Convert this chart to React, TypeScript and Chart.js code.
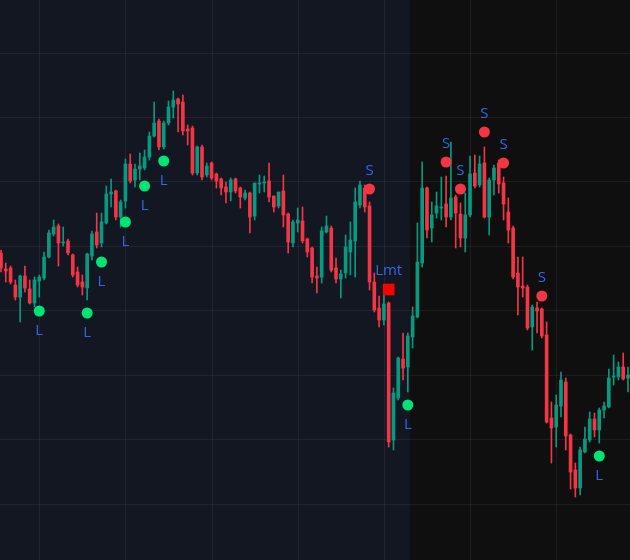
import React, { useEffect, useRef } from "react";
import { Chart, registerables } from "chart.js";

Chart.register(...registerables);

// OHLC per candle (index 0..131)
const OPEN = [307,291,292,275,263,284,271,257,279,282,303,326,334,317,319,305,288,278,272,304,328,317,337,366,369,343,359,396,380,391,392,403,424,439,413,437,453,461,458,431,432,387,413,385,397,386,381,373,368,381,372,362,367,344,376,377,379,364,354,369,346,317,337,339,321,312,284,283,328,332,292,281,287,308,319,355,372,354,278,252,240,257,120,162,201,193,223,243,297,372,332,347,352,356,343,363,346,322,345,387,375,397,343,380,397,377,348,332,287,274,273,233,252,251,225,142,133,154,178,125,90,72,108,120,141,130,150,153,183,183,193,182];
const HIGH = [310,297,294,280,285,294,280,283,285,308,330,340,336,333,321,306,293,285,307,329,347,347,374,381,370,360,401,406,396,407,410,428,458,441,439,459,469,462,465,435,434,414,415,397,398,387,382,378,382,382,373,370,368,377,385,384,397,364,368,385,347,340,352,353,322,313,293,333,344,334,302,290,325,338,372,379,375,358,287,264,275,258,172,203,227,227,253,337,398,373,358,368,383,384,418,365,357,367,404,405,404,413,382,395,400,383,362,334,303,303,275,255,258,252,238,158,165,188,182,126,97,113,133,148,147,152,158,191,205,198,207,193];
const LOW = [288,278,276,260,238,268,256,253,263,280,302,324,294,314,305,283,273,265,260,300,312,313,336,353,340,333,352,377,373,380,390,400,423,410,411,435,442,428,425,415,385,385,380,383,380,372,365,357,359,367,352,360,327,340,367,368,358,348,352,333,307,313,328,317,303,277,267,277,327,288,277,262,282,285,283,352,348,270,248,233,235,113,110,160,180,168,212,242,293,322,318,342,340,333,340,312,313,308,343,372,373,342,325,365,367,340,317,281,245,263,230,210,227,222,137,97,113,143,110,71,63,65,107,118,123,117,142,152,175,180,180,168];
const CLOSE = [292,289,278,263,284,272,257,280,283,303,327,333,317,318,307,285,275,273,306,326,315,338,366,368,343,358,396,379,391,394,403,424,437,413,437,453,460,456,429,429,387,413,383,394,382,379,372,368,380,369,363,367,343,377,377,378,363,353,368,345,318,338,340,319,308,283,282,329,334,290,281,286,313,320,358,375,353,278,250,240,256,118,167,202,192,224,244,298,372,330,345,354,353,343,362,347,322,345,386,374,396,343,380,392,376,356,330,283,273,272,232,253,249,224,138,132,155,180,124,88,72,110,121,141,130,150,154,182,184,193,181,185];

// Strategy markers: candle index and price
const LONG_IDX = [8, 18, 21, 26, 30, 34, 85, 125];
const LONG_PRICE = [249, 247, 298, 338, 374, 399, 155, 104];
const SHORT_IDX = [77, 93, 96, 101, 105, 113];
const SHORT_PRICE = [371, 398, 371, 428, 397, 264];
const LIMIT_IDX = [81];
const LIMIT_PRICE = [270.5];

// Grid lines (price levels and candle indices)
const PRICE_GRID = [56.5, 120.9, 185.3, 249.7, 314.1, 378.5, 442.9, 507.3];
const TIME_GRID = [8, 26, 44, 62, 80, 98, 116];
const SESSION_BREAK = 85.5;

const UP = "#089981";
const DOWN = "#f23645";
const LABEL_BLUE = "#3366ee";

const bgPlugin = {
  id: "sessionBg",
  beforeDatasetsDraw(chart: any) {
    const { ctx, scales } = chart;
    const xs = scales.x;
    const ys = scales.y;
    const xb = Math.round(xs.getPixelForValue(SESSION_BREAK));
    ctx.save();
    ctx.fillStyle = "#131722";
    ctx.fillRect(0, 0, xb, chart.height);
    ctx.fillStyle = "#0f0f0f";
    ctx.fillRect(xb, 0, chart.width - xb, chart.height);
    ctx.strokeStyle = "rgba(255,255,255,0.06)";
    ctx.lineWidth = 1;
    ctx.beginPath();
    TIME_GRID.forEach((v) => {
      const px = Math.round(xs.getPixelForValue(v)) + 0.5;
      ctx.moveTo(px, 0);
      ctx.lineTo(px, chart.height);
    });
    PRICE_GRID.forEach((v) => {
      const py = Math.round(ys.getPixelForValue(v)) + 0.5;
      ctx.moveTo(0, py);
      ctx.lineTo(chart.width, py);
    });
    ctx.stroke();
    ctx.restore();
  },
};

const labelPlugin = {
  id: "markerLabels",
  afterDatasetsDraw(chart: any) {
    const ctx = chart.ctx;
    ctx.save();
    ctx.font = '15px "Open Sans", "Noto Sans", sans-serif';
    ctx.fillStyle = LABEL_BLUE;
    ctx.textAlign = "center";
    ctx.textBaseline = "middle";
    chart.data.datasets.forEach((ds: any, i: number) => {
      if (!ds.markerLabel) return;
      const meta = chart.getDatasetMeta(i);
      meta.data.forEach((pt: any) => {
        ctx.fillText(ds.markerLabel, pt.x, pt.y + ds.labelOffset);
      });
    });
    ctx.restore();
  },
};

export default function App() {
  const ref = useRef<HTMLCanvasElement | null>(null);

  useEffect(() => {
    document.body.style.margin = "0";
    const canvas = ref.current;
    if (!canvas) return;
    const idx = OPEN.map((_, i) => i);
    const colors = idx.map((i) => (CLOSE[i] >= OPEN[i] ? UP : DOWN));

    const chart = new Chart(canvas, {
      type: "bar",
      data: {
        datasets: [
          {
            type: "scatter",
            data: LONG_IDX.map((k, j) => ({ x: k, y: LONG_PRICE[j] })),
            backgroundColor: "#00e676",
            borderWidth: 0,
            pointRadius: 5.5,
            order: 0,
            markerLabel: "L",
            labelOffset: 20,
          } as any,
          {
            type: "scatter",
            data: SHORT_IDX.map((k, j) => ({ x: k, y: SHORT_PRICE[j] })),
            backgroundColor: "#f23645",
            borderWidth: 0,
            pointRadius: 5.5,
            order: 0,
            markerLabel: "S",
            labelOffset: -18,
          } as any,
          {
            type: "scatter",
            data: LIMIT_IDX.map((k, j) => ({ x: k, y: LIMIT_PRICE[j] })),
            backgroundColor: "#ff0000",
            borderWidth: 0,
            pointStyle: "rect",
            pointRadius: 8.2,
            order: 0,
            markerLabel: "Lmt",
            labelOffset: -19,
          } as any,
          {
            type: "bar",
            data: idx.map((i) => ({ x: i, y: [OPEN[i], CLOSE[i]] })),
            backgroundColor: colors,
            barThickness: 3,
            minBarLength: 1,
            grouped: false,
            order: 1,
          } as any,
          {
            type: "bar",
            data: idx.map((i) => ({ x: i, y: [LOW[i], HIGH[i]] })),
            backgroundColor: colors,
            barThickness: 1,
            grouped: false,
            order: 2,
          } as any,
        ],
      },
      options: {
        animation: false,
        responsive: false,
        devicePixelRatio: 1,
        layout: { padding: 0, autoPadding: false },
        plugins: { legend: { display: false }, tooltip: { enabled: false } },
        scales: {
          x: {
            type: "linear",
            display: false,
            offset: false,
            min: -0.209,
            max: 131.42,
          },
          y: {
            type: "linear",
            display: false,
            min: 0,
            max: 560,
          },
        },
      } as any,
      plugins: [bgPlugin, labelPlugin],
    });
    return () => chart.destroy();
  }, []);

  return (
    <div style={{ width: 630, height: 560 }}>
      <canvas ref={ref} width={630} height={560} style={{ display: "block" }} />
    </div>
  );
}
